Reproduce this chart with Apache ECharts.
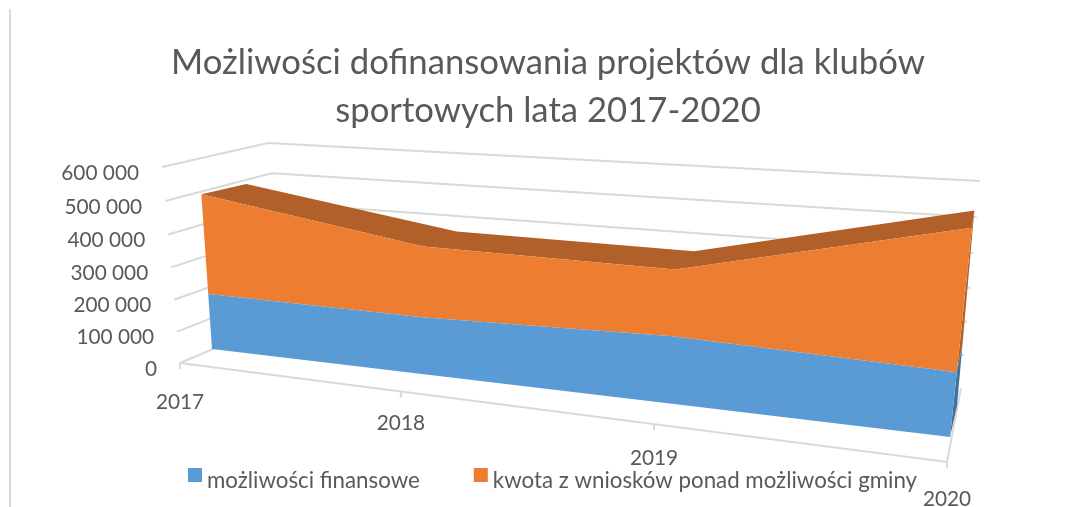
<!DOCTYPE html>
<html>
<head>
<meta charset="utf-8">
<title>Możliwości dofinansowania</title>
<script src="https://cdn.jsdelivr.net/npm/echarts@6/dist/echarts.min.js"></script>
<style>
  html, body { margin: 0; padding: 0; background: #fff; }
  #chart { width: 1072px; height: 507px; }
</style>
</head>
<body>
<div id="chart"></div>
<script>
const years = ['2017', '2018', '2019', '2020']
const finansowe = [180000, 176000, 195000, 176000]
const ponad = [315000, 213000, 188000, 375000]
const valueTicks = [0, 100000, 200000, 300000, 400000, 500000, 600000]

const BLUE = '#5B9BD5'
const ORANGE = '#ED7D31'
const BROWN = '#B26029'
const TEXT = '#595959'
const GRIDLINE = '#D9D9D9'
const FONT = 'Lato'

// maps the flat plot square onto a perspective quad (3d look of the excel chart)
function quadMap(p00, p10, p11, p01) {
  const dx1 = p10[0] - p11[0], dx2 = p01[0] - p11[0], sx = p00[0] - p10[0] + p11[0] - p01[0]
  const dy1 = p10[1] - p11[1], dy2 = p01[1] - p11[1], sy = p00[1] - p10[1] + p11[1] - p01[1]
  const den = dx1 * dy2 - dx2 * dy1
  const g = (sx * dy2 - dx2 * sy) / den
  const h = (dx1 * sy - sx * dy1) / den
  const a = p10[0] - p00[0] + g * p10[0], b = p01[0] - p00[0] + h * p01[0]
  const d = p10[1] - p00[1] + g * p10[1], e = p01[1] - p00[1] + h * p01[1]
  return (u, v) => {
    const w = g * u + h * v + 1
    return [(a * u + b * v + p00[0]) / w, (d * u + e * v + p00[1]) / w]
  }
}

const floorPlane = quadMap([180, 363], [947, 462], [972, 223], [162, 167])
const wallPlane = quadMap([288, 317], [961, 388], [980, 181], [268, 143])
const frontPlane = quadMap([212, 349], [950, 437], [974, 208], [199, 160])
const backPlane = quadMap([261, 328], [957, 406], [976, 192], [243, 152])

const xLabelDrop = [39, 32, 34, 37]

function unit(params, api, i, value) {
  const c = api.coord([i, value])
  const box = params.coordSys
  return [(c[0] - box.x) / box.width, 1 - (c[1] - box.y) / box.height]
}

function poly(points, fill) {
  return { type: 'polygon', shape: { points }, style: { fill } }
}

function gridLine(points) {
  return {
    type: 'polyline',
    shape: { points },
    style: { fill: 'none', stroke: GRIDLINE, lineWidth: 2 },
  }
}

function label(text, x, y, align) {
  return {
    type: 'text',
    style: {
      text, x, y,
      fill: TEXT,
      font: '20.8px ' + FONT,
      align, verticalAlign: 'middle',
      textAlign: align, textVerticalAlign: 'middle',
    },
  }
}

function renderFrame(params, api) {
  const children = []
  valueTicks.forEach((tick) => {
    const [, v] = unit(params, api, 0, tick)
    const pts = [floorPlane(0, v), wallPlane(0, v)]
    if (tick > 0) pts.push(wallPlane(1, v))
    children.push(gridLine(pts))
    const start = floorPlane(0, v)
    children.push(label(tick.toLocaleString('pl-PL').replace(/\s/g, ' '), start[0] - 23, start[1] + 6, 'right'))
  })
  const [, v0] = unit(params, api, 0, 0)
  children.push(gridLine([floorPlane(0, v0), floorPlane(1, v0), wallPlane(1, v0)]))
  years.forEach((year, i) => {
    const [u] = unit(params, api, i, 0)
    const p = floorPlane(u, v0)
    children.push(gridLine([p, [p[0], p[1] + 6]]))
    children.push(label(year, p[0], p[1] + xLabelDrop[i], 'center'))
  })
  return { type: 'group', children }
}

function stacked(i, level) {
  return level === 0 ? 0 : level === 1 ? finansowe[i] : finansowe[i] + ponad[i]
}

// front face of one stacked band, one polygon over all the categories
function renderBand(level, color) {
  return (params, api) => {
    if (api.value(0) !== 0) return null
    const lower = years.map((y, i) => unit(params, api, i, stacked(i, level - 1)))
    const upper = years.map((y, i) => unit(params, api, i, stacked(i, level)))
    return poly(lower.concat(upper.reverse()).map(([u, v]) => frontPlane(u, v)), color)
  }
}

// the dark roof of the top band
function renderRoof(params, api) {
  if (api.value(0) !== 0) return null
  const top = years.map((y, i) => unit(params, api, i, stacked(i, 2)))
  const front = top.map(([u, v]) => frontPlane(u, v))
  const back = top.reverse().map(([u, v]) => backPlane(u, v))
  return poly(front.concat(back), BROWN)
}

// thin dark sliver on the right end of the bands
function renderSide(level, color) {
  return (params, api) => {
    const last = years.length - 1
    const a = unit(params, api, last, stacked(last, level - 1))
    const b = unit(params, api, last, stacked(last, level))
    return poly([frontPlane(a[0], a[1]), frontPlane(b[0], b[1]), backPlane(b[0], b[1]), backPlane(a[0], a[1])], color)
  }
}

const indexed = (values) => values.map((v, i) => [i, v])

const chart = echarts.init(document.getElementById('chart'))
chart.setOption({
  animation: false,
  title: {
    text: 'Możliwości dofinansowania projektów dla klubów\nsportowych lata 2017-2020',
    left: 543,
    top: 34,
    textAlign: 'center',
    textStyle: { color: TEXT, fontFamily: FONT, fontWeight: 'normal', fontSize: 34.7, lineHeight: 48 },
  },
  legend: {
    left: 188,
    top: 468,
    padding: 0,
    itemWidth: 14,
    itemHeight: 14,
    itemGap: 54,
    data: [
      { name: 'możliwości finansowe', icon: 'rect' },
      { name: 'kwota z wniosków ponad możliwości gminy', icon: 'rect' },
    ],
    // the labels sit lower than the swatches in the reference
    formatter: (name) => `{low|${name}}`,
    textStyle: {
      rich: {
        low: { color: TEXT, fontFamily: FONT, fontSize: 22.3, padding: [12, 0, 0, 0] },
      },
    },
  },
  grid: { left: 0, right: 0, top: 0, bottom: 0 },
  xAxis: { type: 'category', boundaryGap: false, data: years, show: false },
  yAxis: { type: 'value', min: 0, max: 600000, interval: 100000, show: false },
  graphic: [
    { type: 'line', shape: { x1: 10, y1: 9, x2: 10, y2: 507 }, style: { stroke: GRIDLINE, lineWidth: 2 } },
  ],
  series: [
    { name: 'frame', type: 'custom', silent: true, clip: false, renderItem: renderFrame, data: [[0, 0]], z: 1 },
    { name: 'roof', type: 'custom', silent: true, clip: false, renderItem: renderRoof, data: indexed(ponad), z: 2 },
    { name: 'side-top', type: 'custom', silent: true, clip: false, renderItem: renderSide(2, BROWN), data: [[3, 0]], z: 2 },
    { name: 'side-bottom', type: 'custom', silent: true, clip: false, renderItem: renderSide(1, '#41719C'), data: [[3, 0]], z: 2 },
    {
      name: 'kwota z wniosków ponad możliwości gminy',
      type: 'custom', silent: true, clip: false,
      renderItem: renderBand(2, ORANGE),
      itemStyle: { color: ORANGE },
      data: indexed(ponad),
      z: 3,
    },
    {
      name: 'możliwości finansowe',
      type: 'custom', silent: true, clip: false,
      renderItem: renderBand(1, BLUE),
      itemStyle: { color: BLUE },
      data: indexed(finansowe),
      z: 3,
    },
  ],
})
</script>
</body>
</html>
